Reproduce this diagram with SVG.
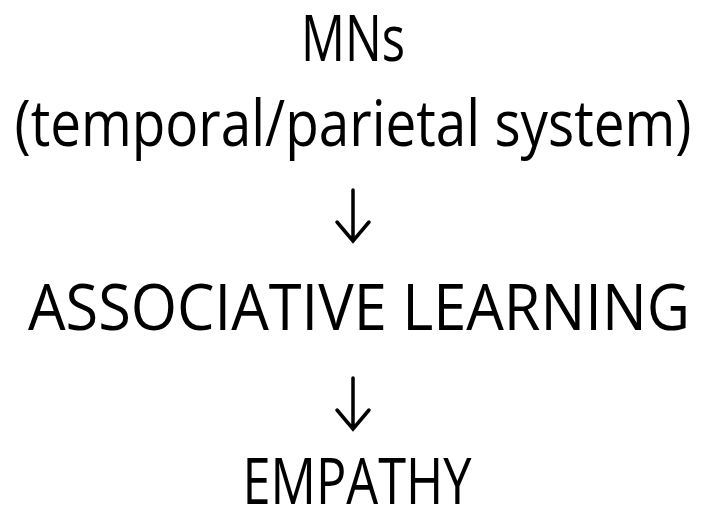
<svg xmlns="http://www.w3.org/2000/svg" width="706" height="508" viewBox="0 0 706 508">
<style>
.t{font-family:"Open Sans","Noto Sans","Liberation Sans",sans-serif;font-size:64px;fill:#000;text-anchor:middle}
.arr{fill:none;stroke:#000;stroke-width:3.5;stroke-linecap:round;stroke-linejoin:miter}
</style>
<rect width="706" height="508" fill="#fff"/>
<g id="mns"><text class="t" x="353" y="61" textLength="104" lengthAdjust="spacingAndGlyphs">MNs</text></g>
<g id="system"><text class="t" x="353" y="146" textLength="677" lengthAdjust="spacingAndGlyphs">(temporal/parietal system)</text></g>
<g id="connectors">
<path class="arr" d="M353 190 V240 M337 222 L353 241 L369 222"/>
<path class="arr" d="M353 378 V428 M337 410 L353 429 L369 410"/>
</g>
<g id="learning"><text class="t" x="359" y="330" textLength="662" lengthAdjust="spacingAndGlyphs">ASSOCIATIVE LEARNING</text></g>
<g id="empathy"><text class="t" x="357" y="504" textLength="229" lengthAdjust="spacingAndGlyphs">EMPATHY</text></g>
</svg>
